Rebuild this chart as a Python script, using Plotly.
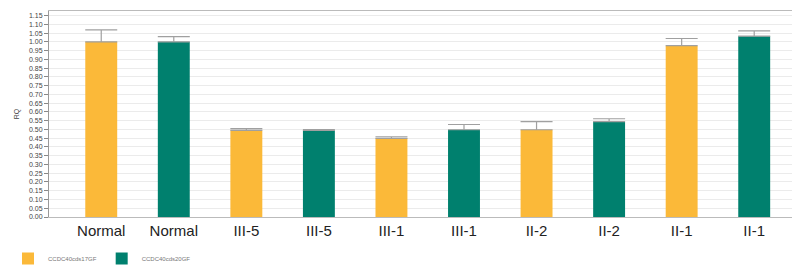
import plotly.graph_objects as go

tick_labels = ["Normal", "Normal", "III-5", "III-5", "III-1", "III-1", "II-2", "II-2", "II-1", "II-1"]

series_a_name = "CCDC40cds17GF"
series_a_slots = [0, 2, 4, 6, 8]
series_a_values = [1.00, 0.494, 0.449, 0.498, 0.978]
series_a_err = [0.068, 0.010, 0.009, 0.046, 0.041]

series_b_name = "CCDC40cds20GF"
series_b_slots = [1, 3, 5, 7, 9]
series_b_values = [1.00, 0.494, 0.498, 0.544, 1.032]
series_b_err = [0.030, 0.005, 0.030, 0.017, 0.031]

y_ticks = [round(i * 0.05, 2) for i in range(24)]

YELLOW = "#FBB939"
GREEN = "#00806E"
ERR = "#A0A0A0"

fig = go.Figure()
for name, slots, vals, errs, col in [
    (series_a_name, series_a_slots, series_a_values, series_a_err, YELLOW),
    (series_b_name, series_b_slots, series_b_values, series_b_err, GREEN),
]:
    fig.add_trace(go.Bar(
        x=slots, y=vals, name=name, width=0.44,
        marker=dict(color=col, line=dict(width=0)),
        error_y=dict(type="data", symmetric=False, array=errs,
                     arrayminus=[0] * len(errs), color=ERR, thickness=1.2, width=16),
    ))

fig.update_layout(
    width=800, height=265,
    margin=dict(l=41, r=3, t=3, b=56),
    paper_bgcolor="white", plot_bgcolor="white",
    barmode="overlay",
    font=dict(family="Liberation Sans, Arial, sans-serif", color="#222"),
    showlegend=True,
    legend=dict(orientation="h", xref="container", yref="container",
                x=0.0, y=0.0, xanchor="left", yanchor="bottom",
                font=dict(size=6, color="#777"), itemwidth=30,
                traceorder="normal", bgcolor="rgba(0,0,0,0)"),
    xaxis=dict(
        range=[-0.72, 9.7],
        tickmode="array", tickvals=list(range(len(tick_labels))), ticktext=tick_labels,
        tickfont=dict(size=15, color="#222"),
        ticks="", ticklen=0,
        showline=True, linecolor="#BBBBBB", linewidth=1,
        showgrid=False, zeroline=False, mirror=True,
    ),
    yaxis=dict(
        range=[0, 1.176],
        tickmode="array", tickvals=y_ticks, ticktext=[f"{v:.2f}" for v in y_ticks],
        tickfont=dict(size=7, color="#444"),
        ticks="outside", ticklen=4, tickcolor="#888",
        showline=True, linecolor="#999999", linewidth=1, mirror=True,
        showgrid=True, gridcolor="#EBEBEB", gridwidth=1,
        zeroline=False,
        title=dict(text="RQ", font=dict(size=7, color="#444"), standoff=8),
    ),
)

fig.write_html("out.html")
